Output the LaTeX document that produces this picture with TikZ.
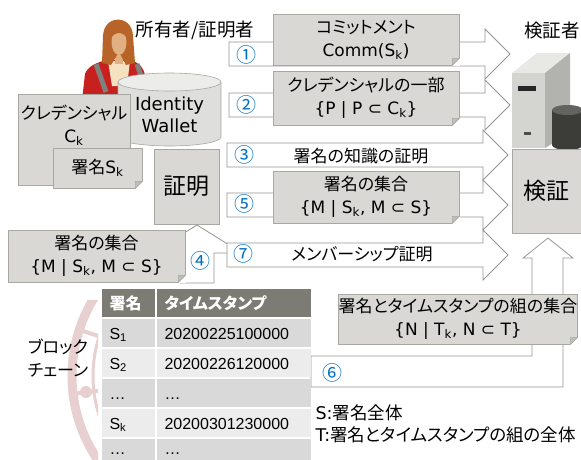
\documentclass[tikz,border=0pt]{standalone}
\usepackage{fontspec}
\setmainfont{Noto Sans CJK JP}[RawFeature=+palt]
\newfontfamily\latfont{DejaVu Sans}
\newfontfamily\arialfont{Liberation Sans}
\usepackage{tikz}
\usetikzlibrary{positioning, calc, matrix}
\definecolor{boxgray}{RGB}{217, 216, 212}
\definecolor{boxedge}{RGB}{168, 168, 163}
\definecolor{foldgray}{RGB}{190, 190, 186}
\definecolor{arrowgray}{RGB}{150, 150, 150}
\definecolor{stepblue}{RGB}{0, 112, 192}
\definecolor{headgray}{RGB}{125, 124, 116}
\definecolor{rowdark}{RGB}{217, 217, 217}
\definecolor{rowlight}{RGB}{236, 236, 236}
\definecolor{walletgray}{RGB}{222, 222, 220}
\definecolor{wallettop}{RGB}{236, 236, 234}
\definecolor{chainpink}{RGB}{232, 208, 208}
\definecolor{jacketred}{RGB}{200, 32, 30}
\definecolor{hairbrown}{RGB}{184, 100, 40}
\definecolor{skintan}{RGB}{224, 176, 130}
\definecolor{shirtcream}{RGB}{246, 226, 192}
\definecolor{strapgray}{RGB}{128, 128, 124}
\definecolor{serverfront}{RGB}{212, 212, 208}
\definecolor{servertop}{RGB}{232, 232, 229}
\definecolor{serverside}{RGB}{178, 178, 174}
\definecolor{diskdark}{RGB}{60, 60, 56}
\newcommand{\boxfont}{\fontsize{17pt}{23pt}\selectfont}
\newcommand{\titlefont}{\fontsize{18.5pt}{22pt}\selectfont}
\newcommand{\legendfont}{\fontsize{17.5pt}{22pt}\selectfont}
\newcommand{\bigfont}{\fontsize{23pt}{27pt}\selectfont}
\newcommand{\stepfont}{\fontsize{20pt}{22pt}\selectfont}
\newcommand{\tdfont}{\arialfont\fontsize{16pt}{19pt}\selectfont}
\newcommand{\thfont}{\bfseries\fontsize{16pt}{19pt}\selectfont}
\newcommand{\lattext}[1]{{\latfont #1}}
\tikzset{
  blockarrow/.style={draw=arrowgray, fill=white, line width=0.8pt, line join=miter},
  notebox/.style={draw=boxedge, fill=boxgray, line width=0.6pt, inner sep=0pt, align=center},
  plainbox/.style={draw=boxedge, fill=boxgray, line width=0.6pt, inner sep=0pt, align=center},
  stepno/.style={text=stepblue, inner sep=0pt, font=\stepfont},
  cellbox/.style={font=\tdfont, inner xsep=8pt, inner ysep=0pt, minimum height=28pt, text height=14pt, text depth=1pt, align=left}
}
\newcommand{\blockarrow}[2]{%
  \draw[blockarrow] ($(#1)+(0,-12)$) -- ($(#2)+(-25,-12)$) -- ($(#2)+(-25,-25)$) -- (#2)
    -- ($(#2)+(-25,25)$) -- ($(#2)+(-25,12)$) -- ($(#1)+(0,12)$) -- cycle;}
\newcommand{\foldcorner}[1]{%
  \fill[white] ($(#1.south east)+(-7.3,0.6)$) -- ($(#1.south east)+(0.6,0.6)$) -- ($(#1.south east)+(0.6,-7.3)$) -- cycle;
  \filldraw[fill=foldgray, draw=boxedge, line width=0.6pt] ($(#1.south east)+(-7,0)$) -- ($(#1.south east)+(0,-7)$) -- ($(#1.south east)+(-7,-7)$) -- cycle;}

\begin{document}
\begin{tikzpicture}[x=1pt, y=-1pt, every node/.style={font=\boxfont}]
\useasboundingbox (0,0) rectangle (581,459);
\fill[white] (0,0) rectangle (581,459);

\begin{scope}
\clip (0,300) rectangle (98,459);
\draw[chainpink, line width=9pt] (221,376) circle[radius=149pt];
\draw[chainpink, line width=3pt] (221,376) circle[radius=128pt];
\draw[chainpink, line width=4pt] (221,376) -- (72,394);
\draw[chainpink, line width=4pt] (221,376) -- (80,330);
\fill[chainpink] (86,392) circle[radius=6pt];
\end{scope}

\fill[jacketred] (82,100) -- (85,74) .. controls (88,66) and (96,63) .. (106,60) -- (130,60) .. controls (140,63) and (144,68) .. (145,76) -- (147,100) -- cycle;
\fill[shirtcream] (108,61) -- (130,61) -- (127,86) -- (112,86) -- cycle;
\fill[skintan] (115,50) rectangle (123,64);
\fill[hairbrown] (102,63) -- (103,36) .. controls (104,14) and (132,14) .. (133,36) -- (135,63) -- (126,65) -- (119,52) -- (111,65) -- cycle;
\fill[skintan] (119,42) ellipse[x radius=7.5pt, y radius=13pt];
\fill[hairbrown] (111,38) .. controls (112,24) and (126,24) .. (127,38) .. controls (122,31) and (116,31) .. (111,38);
\draw[strapgray, line width=5pt] (96,64) -- (106,92);
\draw[strapgray, line width=5pt] (137,64) -- (142,79);

\coordinate (p4a) at (197,283);
\coordinate (p4b) at (197,225);
\draw[blockarrow] ($(p4a)+(-17,0)$) -- ($(p4b)+(-17,28)$) -- ($(p4b)+(-45,28)$) -- (p4b)
  -- ($(p4b)+(45,28)$) -- ($(p4b)+(17,28)$) -- ($(p4a)+(17,0)$) -- cycle;

\coordinate (p1a) at (229,54);  \coordinate (p1b) at (510,54);
\coordinate (p2a) at (229,105); \coordinate (p2b) at (510,105);
\coordinate (p3a) at (227,155); \coordinate (p3b) at (508,155);
\coordinate (p5a) at (227,205); \coordinate (p5b) at (508,205);
\coordinate (p7a) at (227,255); \coordinate (p7b) at (508,255);
\foreach \k in {1,2,3,5,7} {\blockarrow{p\k a}{p\k b}}

\coordinate (p6a) at (311,371);
\coordinate (p6b) at (548,238);
\draw[blockarrow] ($(p6a)+(0,-15)$) -| ($(p6b)+(-16,20)$) -- ($(p6b)+(-25,20)$) -- (p6b)
  -- ($(p6b)+(25,20)$) -- ($(p6b)+(15,20)$) |- ($(p6a)+(0,16)$) -- cycle;

\fill[servertop] (512,73) -- (537,53) -- (570,53) -- (545,73) -- cycle;
\fill[serverside] (545,73) -- (570,53) -- (570,133) -- (545,148) -- cycle;
\fill[serverfront] (512,73) rectangle (545,148);
\fill[black!85] (518,86) rectangle (536,91);
\fill[black!70] (524,132) rectangle (531,135);
\fill[diskdark] (552,110) rectangle (583,145);
\fill[diskdark] (567.5,145) ellipse[x radius=15.5pt, y radius=5pt];
\fill[diskdark!80] (567.5,110) ellipse[x radius=15.5pt, y radius=5pt];

\fill[walletgray] (118,82) rectangle (221,137);
\fill[walletgray] (169.5,137) ellipse[x radius=51.5pt, y radius=9pt];
\filldraw[fill=wallettop, draw=boxedge, line width=0.6pt] (169.5,82) ellipse[x radius=51.5pt, y radius=9pt];
\draw[boxedge, line width=0.6pt] (118,82) -- (118,137) arc[start angle=180, end angle=360, x radius=51.5pt, y radius=9pt] -- (221,82);
\node[font=\latfont\fontsize{18pt}{22pt}\selectfont, align=center] (wallet) at (169.5,115) {Identity\\Wallet};

\node[notebox, minimum width=112pt, minimum height=91pt] (cred) at (74,139.5) {};
\node[align=center] (credtext) at (74,125) {クレデンシャル\\\lattext{C\textsubscript{k}}};
\node[notebox, minimum width=89pt, minimum height=40pt] (sign) at (97.5,168) {署名\lattext{S\textsubscript{k}}};
\node[plainbox, minimum width=65pt, minimum height=75pt, font=\bigfont] (proof) at (186.5,186.5) {証明};
\node[plainbox, minimum width=69pt, minimum height=84pt, font=\bigfont] (verify) at (546.5,191) {検証};
\node[notebox, minimum width=186pt, minimum height=51pt] (comm) at (366,39.5) {コミットメント\\\lattext{Comm(S\textsubscript{k})}};
\node[notebox, minimum width=186pt, minimum height=54pt] (part) at (366,98) {クレデンシャルの一部\\\lattext{\{P | P ⊂ C\textsubscript{k}\}}};
\node[notebox, minimum width=186pt, minimum height=52pt] (setm) at (366,197) {署名の集合\\\lattext{\{M | S\textsubscript{k}, M ⊂ S\}}};
\node[notebox, minimum width=236pt, minimum height=50pt] (tsset) at (458,319) {署名とタイムスタンプの組の集合\\\lattext{\{N | T\textsubscript{k}, N ⊂ T\}}};
\node[notebox, minimum width=177pt, minimum height=52pt] (lowset) at (96.5,256) {署名の集合\\\lattext{\{M | S\textsubscript{k}, M ⊂ S\}}};
\foreach \n in {comm,part,setm,tsset,lowset,sign} {\foldcorner{\n}}

\node[font=\titlefont] (owner) at (195,30) {所有者/証明者};
\node[font=\titlefont] (verifier) at (552,31) {検証者};
\node (know) at (361,156) {署名の知識の証明};
\node (member) at (362,254) {メンバーシップ証明};
\node[stepno] (n1) at (246,55) {①};
\node[stepno] (n2) at (246,105) {②};
\node[stepno] (n3) at (244,155) {③};
\node[stepno] (n4) at (200,261) {④};
\node[stepno] (n5) at (244,204) {⑤};
\node[stepno] (n6) at (332,373) {⑥};
\node[stepno] (n7) at (243,254) {⑦};

\node[align=left] (chainname) at (58,358) {ブロック\\チェーン};
\matrix[matrix of nodes, anchor=north west, column sep=2pt, row sep=2pt,
  nodes={cellbox},
  column 1/.style={nodes={text width=37pt}},
  column 2/.style={nodes={text width=138pt}},
  row 1/.style={nodes={fill=headgray, text=white, font=\thfont}},
  row 2/.style={nodes={fill=rowdark}}, row 3/.style={nodes={fill=rowlight}},
  row 4/.style={nodes={fill=rowdark}}, row 5/.style={nodes={fill=rowlight}},
  row 6/.style={nodes={fill=rowdark, text height=9pt, text depth=6pt}}] (chain) at (98,285) {
  署名 & タイムスタンプ \\
  S\textsubscript{1} & 20200225100000 \\
  S\textsubscript{2} & 20200226120000 \\
  … & … \\
  S\textsubscript{k} & 20200301230000 \\
  … & … \\
};

\node[font=\legendfont, align=left, anchor=west] (legend) at (312,424) {\lattext{S:}署名全体\\\lattext{T:}署名とタイムスタンプの組の全体};
\end{tikzpicture}
\end{document}
